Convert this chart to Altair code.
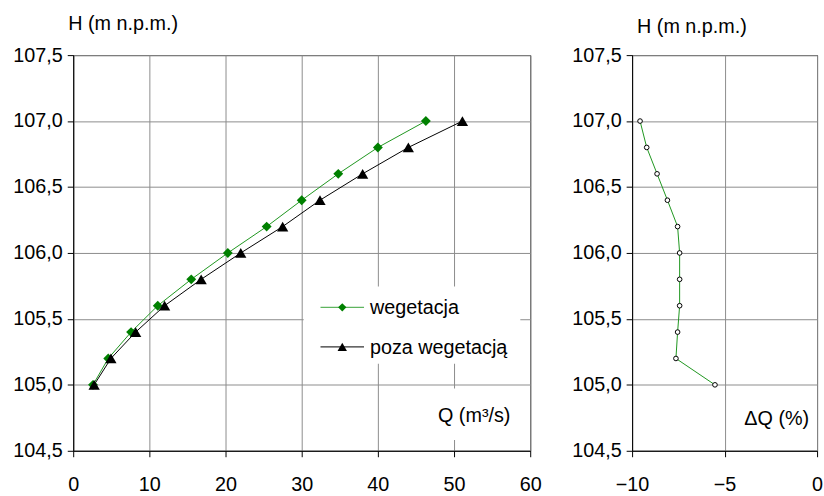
import altair as alt
import pandas as pd

# ---- data ----
H = [105.0, 105.2, 105.4, 105.6, 105.8, 106.0, 106.2, 106.4, 106.6, 106.8, 107.0]
Q_weg = [2.6, 4.6, 7.6, 11.1, 15.5, 20.3, 25.4, 30.0, 34.8, 40.0, 46.3]
Q_poza = [2.75, 4.95, 8.2, 12.0, 16.8, 22.0, 27.5, 32.4, 38.0, 44.0, 51.1]
dQ = [-5.52, -7.63, -7.54, -7.43, -7.43, -7.43, -7.54, -8.09, -8.65, -9.21, -9.57]
series = ["wegetacja", "poza wegetacją"]
colors = ["#008000", "#000000"]
line_colors = ["#1e961e", "#000000"]
y_ticks = [104.5, 105.0, 105.5, 106.0, 106.5, 107.0, 107.5]
x_ticks_left = [0, 10, 20, 30, 40, 50, 60]
x_ticks_right = [-10, -5, 0]
title_text = "H (m n.p.m.)"
q_label = "Q (m³/s)"
dq_label = "ΔQ (%)"

FONT = "Liberation Sans"
FS = 20

df = pd.DataFrame({
    "H": H * 2,
    "Q": Q_weg + Q_poza,
    "series": [series[0]] * len(H) + [series[1]] * len(H),
})
df_dq = pd.DataFrame({"H": H, "dQ": dQ})
one = pd.DataFrame({"series": series})

LEFT_W, RIGHT_W, HGT = 462, 187, 400

def y_axis():
    return alt.Axis(values=y_ticks, labelExpr="replace(format(datum.value, '.1f'), '.', ',')",
                    title=None, labelFontSize=FS, labelFont=FONT, labelColor="black",
                    tickSize=6, tickColor="black", domainColor="black", labelPadding=5,
                    gridColor="#8c8c8c", gridWidth=1, labelFlush=False)

def x_axis(vals):
    return alt.Axis(values=vals, title=None, labelFontSize=FS, labelFont=FONT, labelColor="black",
                    tickSize=6, tickColor="black", domainColor="black", labelPadding=18,
                    gridColor="#8c8c8c", gridWidth=1, labelFlush=False, format="d")

y_enc = alt.Y("H:Q", scale=alt.Scale(domain=[104.5, 107.5], nice=False, zero=False), axis=y_axis())

base = alt.Chart(df)
lines = base.mark_line(strokeWidth=1).encode(
    x=alt.X("Q:Q", scale=alt.Scale(domain=[0, 60], nice=False), axis=x_axis(x_ticks_left)),
    y=y_enc,
    color=alt.Color("series:N", scale=alt.Scale(domain=series, range=line_colors), legend=None),
)
diamonds = base.transform_filter(alt.datum.series == series[0]).mark_point(
    shape="diamond", filled=True, size=100, color=colors[0], opacity=1
).encode(x="Q:Q", y="H:Q")
triangles = base.transform_filter(alt.datum.series == series[1]).mark_point(
    shape="triangle-up", filled=True, size=130, color=colors[1], opacity=1
).encode(x="Q:Q", y="H:Q")

# legend (annotation)
leg_box = alt.Chart(one.head(1)).mark_rect(color="white").encode(
    x=alt.value(233), x2=alt.value(452), y=alt.value(234), y2=alt.value(312))
leg_layers = []
for i, (s, c, shp, sz) in enumerate(zip(series, colors, ["diamond", "triangle-up"], [70, 90])):
    yy = 255 + 40 * i
    d1 = alt.Chart(one[one.series == s])
    leg_layers.append(d1.mark_rule(color="#5fb55f" if i == 0 else "#333333", strokeWidth=1.2).encode(
        x=alt.value(250), x2=alt.value(294), y=alt.value(yy)))
    leg_layers.append(d1.mark_point(shape=shp, filled=True, size=sz, color=c, opacity=1).encode(
        x=alt.value(272), y=alt.value(yy)))
    leg_layers.append(d1.mark_text(align="left", baseline="middle", font=FONT, fontSize=FS, color="black").encode(
        x=alt.value(300), y=alt.value(yy + 1), text="series:N"))

q_box = alt.Chart(one.head(1)).mark_rect(color="white").encode(
    x=alt.value(352), x2=alt.value(454), y=alt.value(337), y2=alt.value(389))
q_text = alt.Chart(one.head(1)).mark_text(align="right", baseline="middle", font=FONT, fontSize=FS,
                                          color="black", text=q_label).encode(
    x=alt.value(442), y=alt.value(365))

left = alt.layer(lines, q_box, q_text, leg_box, *leg_layers, diamonds, triangles).properties(
    width=LEFT_W, height=HGT,
    title=alt.TitleParams(title_text, anchor="start", frame="group", dx=-5, offset=11,
                          fontSize=FS, font=FONT, fontWeight="normal", color="black"),
)

rbase = alt.Chart(df_dq)
r_line = rbase.mark_line(strokeWidth=1, color="#1e961e").encode(
    x=alt.X("dQ:Q", scale=alt.Scale(domain=[-10, 0], nice=False, zero=False), axis=x_axis(x_ticks_right)),
    y=y_enc, order="H:Q",
)
r_pts = rbase.mark_point(shape="circle", size=22, filled=True, fill="white", stroke="black",
                         strokeWidth=1, opacity=1).encode(x="dQ:Q", y="H:Q")
dq_text = alt.Chart(one.head(1)).mark_text(align="right", baseline="middle", font=FONT, fontSize=FS,
                                           color="black", text=dq_label).encode(
    x=alt.value(179), y=alt.value(368))

right = alt.layer(r_line, r_pts, dq_text).properties(
    width=RIGHT_W, height=HGT,
    title=alt.TitleParams(title_text, anchor="start", frame="group", dx=5, offset=8,
                          fontSize=FS, font=FONT, fontWeight="normal", color="black"),
)

chart = alt.hconcat(left, right, spacing=29).properties(
    padding={"left": 12, "top": 11, "right": 0, "bottom": 0},
    background="white",
).configure_view(stroke="black", strokeWidth=1).configure_axis(gridOpacity=1)

chart.save("out.html", embed_options={"renderer": "svg", "actions": False})
